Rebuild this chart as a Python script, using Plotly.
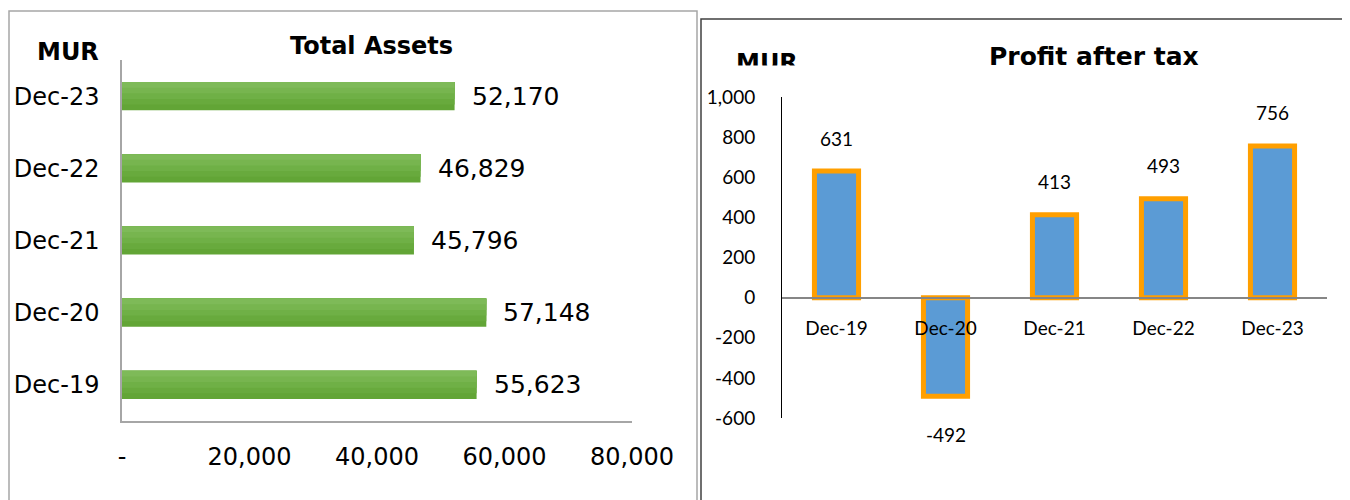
import plotly.graph_objects as go

# ── Data ─────────────────────────────────────────────────────────────
periods = ["Dec-19", "Dec-20", "Dec-21", "Dec-22", "Dec-23"]
total_assets = [55623, 57148, 45796, 46829, 52170]
profit_after_tax = [631, -492, 413, 493, 756]

asset_ticks = [0, 20000, 40000, 60000, 80000]
asset_ticktext = ["-", "20,000", "40,000", "60,000", "80,000"]
profit_ticks = [-600, -400, -200, 0, 200, 400, 600, 800, 1000]
profit_ticktext = ["-600", "-400", "-200", "0", "200", "400", "600", "800", "1,000"]

# ── Palette / fonts ──────────────────────────────────────────────────
LEFT_FONT = "DejaVu Sans"
RIGHT_FONT = "Lato"
AXIS_GRAY = "#A6A6A6"
GREENS = ["#62A536", "#68AA3D", "#6FB046", "#77B54F", "#7EBA58"]  # dark -> light (bottom -> top)
BLUE = "#5B9BD5"
ORANGE = "#FF9F00"

W, H = 1350, 500
OFF = 8  # page body margin the figure sits inside


def px_x(p):
    return (p - OFF) / W


def px_y(p):
    return 1 - (p - OFF) / H


def label(x, y, text, family, size):
    fig.add_annotation(x=px_x(x), y=px_y(y), xref="paper", yref="paper",
                       xanchor="center", yanchor="middle",
                       text=text, showarrow=False,
                       font=dict(family=family, size=size, color="#000000"))


fig = go.Figure()

# ── Total Assets (horizontal bars, faux vertical gradient) ───────────
bar_w = 0.39
n_layers = len(GREENS)
for i, col in enumerate(GREENS):
    w = bar_w * (n_layers - i) / n_layers
    fig.add_trace(go.Bar(
        x=total_assets, y=periods, orientation="h",
        width=w, offset=bar_w / 2 - w,
        marker=dict(color=col, line=dict(width=0)),
        xaxis="x", yaxis="y", showlegend=False,
        hoverinfo="skip" if i else None,
    ))

for v, p in zip(total_assets, periods):
    fig.add_annotation(
        x=v, y=p, xref="x", yref="y", text=f"{v:,}", showarrow=False,
        xanchor="left", xshift=15,
        font=dict(family=LEFT_FONT, size=25, color="#000000"),
    )

# ── Profit after tax (vertical bars) ─────────────────────────────────
fig.add_trace(go.Bar(
    x=periods, y=profit_after_tax, width=0.405,
    marker=dict(color=BLUE, line=dict(color=ORANGE, width=5)),
    xaxis="x2", yaxis="y2", showlegend=False,
))

for v, p in zip(profit_after_tax, periods):
    fig.add_annotation(
        x=p, y=v, xref="x2", yref="y2", text=f"{v:,}", showarrow=False,
        yanchor="middle", yshift=33 if v >= 0 else -38,
        font=dict(family=RIGHT_FONT, size=19, color="#000000"),
    )

# ── Titles / unit labels ─────────────────────────────────────────────
label(372, 46, "<b>Total Assets</b>", LEFT_FONT, 24)
label(68, 52, "<b>MUR</b>", LEFT_FONT, 24)
label(1094, 57, "<b>Profit after tax</b>", LEFT_FONT, 25)
label(767, 63, "<b>MUR</b>", LEFT_FONT, 24)
# clipped unit label: white patch hides its lower part
fig.add_annotation(x=px_x(767), y=px_y(65), xref="paper", yref="paper",
                   xanchor="center", yanchor="top", text=" ", showarrow=False,
                   width=90, height=20, bgcolor="#FFFFFF", borderpad=0)

# ── Panel frames ─────────────────────────────────────────────────────
fig.add_shape(type="rect", xref="paper", yref="paper",
              x0=px_x(9), x1=px_x(697), y0=px_y(530), y1=px_y(11),
              line=dict(color=AXIS_GRAY, width=1.5), layer="below")
fig.add_shape(type="rect", xref="paper", yref="paper",
              x0=px_x(701), x1=px_x(1380), y0=px_y(530), y1=px_y(19),
              line=dict(color="#404040", width=1.5), layer="below")

# ── Layout ───────────────────────────────────────────────────────────
fig.update_layout(
    width=W, height=H,
    margin=dict(l=0, r=0, t=0, b=0, autoexpand=False),
    paper_bgcolor="#FFFFFF", plot_bgcolor="#FFFFFF",
    barmode="overlay",
    xaxis=dict(
        domain=[px_x(122), px_x(632)], range=[0, 80000],
        tickvals=asset_ticks, ticktext=asset_ticktext,
        showgrid=False, zeroline=False, showline=True,
        linecolor=AXIS_GRAY, linewidth=1.5, ticks="",
        ticklabelstandoff=13, anchor="y", automargin=False,
        tickfont=dict(family=LEFT_FONT, size=24, color="#000000"),
    ),
    yaxis=dict(
        domain=[px_y(421), px_y(60)], anchor="x", automargin=False,
        showgrid=False, zeroline=False, showline=True,
        linecolor=AXIS_GRAY, linewidth=1.5, ticks="",
        ticklabelstandoff=16,
        tickfont=dict(family=LEFT_FONT, size=24, color="#000000"),
    ),
    xaxis2=dict(
        domain=[px_x(782), px_x(1327)], anchor="free", position=px_y(298),
        automargin=False,
        showgrid=False, zeroline=False, showline=True,
        linecolor="#868686", linewidth=1.5, ticks="",
        ticklabelstandoff=13,
        tickfont=dict(family=RIGHT_FONT, size=19, color="#000000"),
    ),
    yaxis2=dict(
        domain=[px_y(418), px_y(97)], anchor="x2", automargin=False,
        range=[-600, 1000], tickvals=profit_ticks, ticktext=profit_ticktext,
        showgrid=False, zeroline=False, showline=True,
        linecolor="#000000", linewidth=1, ticks="",
        ticklabelstandoff=22,
        tickfont=dict(family=RIGHT_FONT, size=19, color="#000000"),
    ),
)

fig.write_html("out.html")
